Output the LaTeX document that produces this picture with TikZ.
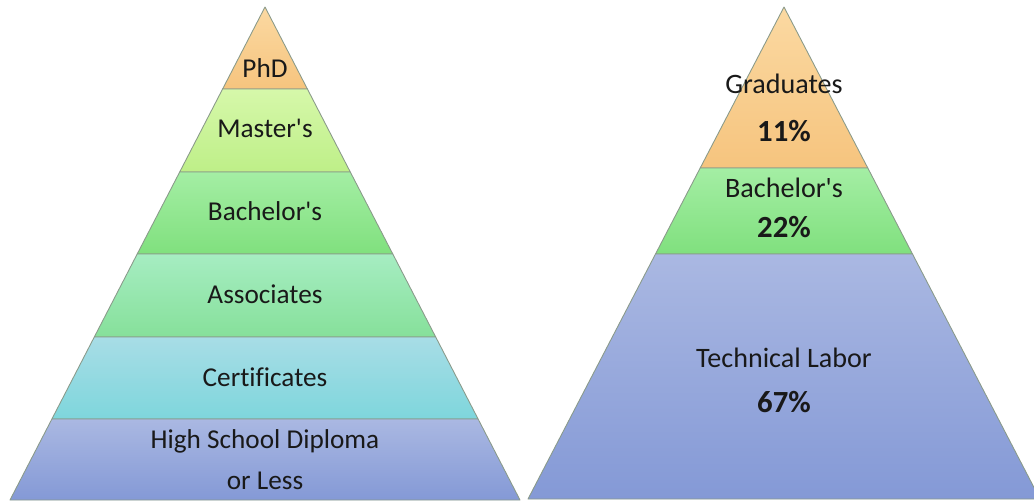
\documentclass[tikz,border=0pt]{standalone}
\usepackage{fontspec}
\setmainfont{Carlito}[Ligatures=NoCommon]
\usetikzlibrary{positioning,calc}
\definecolor{phdtop}{HTML}{FBD9A2}
\definecolor{phdbot}{HTML}{F6C47E}
\definecolor{mastop}{HTML}{D6F8AA}
\definecolor{masbot}{HTML}{BEEF88}
\definecolor{bactop}{HTML}{A4EEA4}
\definecolor{bacbot}{HTML}{80E07E}
\definecolor{asstop}{HTML}{A6EDC2}
\definecolor{assbot}{HTML}{86E09A}
\definecolor{certop}{HTML}{A8DDE6}
\definecolor{cerbot}{HTML}{7ED6DC}
\definecolor{hstop}{HTML}{AAB8E2}
\definecolor{hsbot}{HTML}{8499D6}
\definecolor{edge}{HTML}{8A9A8A}
\tikzset{
    tier/.style = {
        draw=edge,
        line width=0.5pt,
        line join=round
    },
    tiertext/.style = {
        anchor=base,
        inner sep=0pt,
        text=black!90,
        font=\fontsize{15.5}{18}\selectfont
    },
    worktext/.style = {
        tiertext,
        font=\fontsize{16}{19}\selectfont
    },
    pcttext/.style = {
        tiertext,
        font=\bfseries\fontsize{17.5}{20}\selectfont
    },
}
\begin{document}
\begin{tikzpicture}[x=0.2mm,y=-0.2mm]
            \useasboundingbox (0,0) rectangle (1034,501);

            % degrees
            \path[tier, top color=phdtop, bottom color=phdbot] (265,7) -- (307.4,89) -- (222.6,89) -- cycle;
            \path[tier, top color=mastop, bottom color=masbot] (222.6,89) -- (307.4,89) -- (350.3,172) -- (179.7,172) -- cycle;
            \path[tier, top color=bactop, bottom color=bacbot] (179.7,172) -- (350.3,172) -- (392.8,254) -- (137.2,254) -- cycle;
            \path[tier, top color=asstop, bottom color=assbot] (137.2,254) -- (392.8,254) -- (435.7,337) -- (94.3,337) -- cycle;
            \path[tier, top color=certop, bottom color=cerbot] (94.3,337) -- (435.7,337) -- (478.1,419) -- (51.9,419) -- cycle;
            \path[tier, top color=hstop, bottom color=hsbot] (51.9,419) -- (478.1,419) -- (520,500) -- (10,500) -- cycle;

            \node[tiertext] (phd) at (265,77) {PhD};
            \node[tiertext] (masters) at (265,137) {Master\textquotesingle s};
            \node[tiertext] (bachelors) at (265,220) {Bachelor\textquotesingle s};
            \node[tiertext] (associates) at (265,303) {Associates};
            \node[tiertext] (certificates) at (265,386) {Certificates};
            \node[tiertext] (highschool) at (265,448) {High School Diploma};
            \node[tiertext] (orless) at (265,489) {or Less};

            % workforce
            \path[tier, top color=phdtop, bottom color=phdbot] (784,7) -- (867.8,168) -- (700.2,168) -- cycle;
            \path[tier, top color=bactop, bottom color=bacbot] (700.2,168) -- (867.8,168) -- (912.5,254) -- (655.5,254) -- cycle;
            \path[tier, top color=hstop, bottom color=hsbot] (655.5,254) -- (912.5,254) -- (1040,499) -- (528,499) -- cycle;

            \node[worktext] (graduates) at (784,93) {Graduates};
            \node[pcttext] (gradpct) at (784,141) {11\%};
            \node[worktext] (bachwork) at (784,197) {Bachelor\textquotesingle s};
            \node[pcttext] (bachpct) at (784,237) {22\%};
            \node[worktext] (technical) at (784,367) {Technical Labor};
            \node[pcttext] (techpct) at (784,412) {67\%};
        \end{tikzpicture}
\end{document}
